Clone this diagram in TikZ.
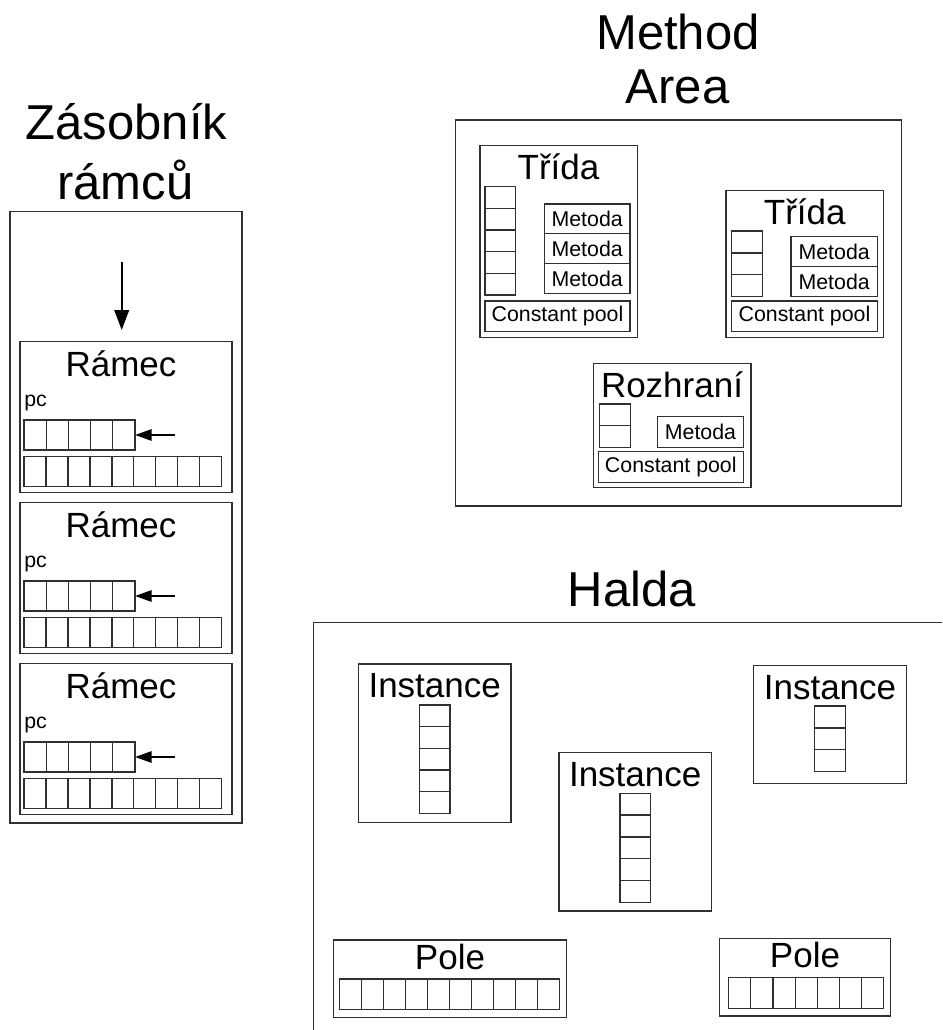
\documentclass[tikz,border=0pt]{standalone}
\usepackage{fontspec}
\setmainfont{Liberation Sans}
\usetikzlibrary{fit,arrows.meta}
\definecolor{lc}{HTML}{303030}
\tikzset{
  box/.style={draw=lc, line width=0.95pt, inner sep=0pt, outer sep=0pt},
  cellline/.style={draw=lc, line width=0.95pt},
  bigt/.style={font=\fontsize{36.75pt}{40pt}\selectfont, inner sep=0pt, anchor=base},
  midt/.style={font=\fontsize{26.25pt}{30pt}\selectfont, inner sep=0pt, anchor=base},
  smallt/.style={font=\fontsize{16pt}{18pt}\selectfont, inner sep=0pt},
  stackarrow/.style={line width=1.3pt, -{Triangle[length=15pt,width=11pt]}},
  pcarrow/.style={line width=1.6pt, -{Triangle[length=12.5pt,width=8.5pt]}},
}
% horizontal row of cells: x1 y1 x2 y2 n name
\newcommand\hcells[6]{%
  \node[box,fit={(#1,#2)(#3,#4)}] (#6) {};
  \pgfmathtruncatemacro\cellsm{#5-1}%
  \foreach \i in {1,...,\cellsm}{%
    \pgfmathsetmacro\cx{#1+(#3-#1)*\i/#5}%
    \draw[cellline] (\cx,#2) -- (\cx,#4);}%
}
% vertical column of cells: x1 y1 x2 y2 n name
\newcommand\vcells[6]{%
  \node[box,fit={(#1,#2)(#3,#4)}] (#6) {};
  \pgfmathtruncatemacro\cellsm{#5-1}%
  \foreach \i in {1,...,\cellsm}{%
    \pgfmathsetmacro\cy{#2+(#4-#2)*\i/#5}%
    \draw[cellline] (#1,\cy) -- (#3,\cy);}%
}
% labelled box: x1 y1 x2 y2 name text
\newcommand\labbox[6]{%
  \node[box,fit={(#1,#2)(#3,#4)}] (#5) {};
  \node[smallt] (#5-t) at (#5.center) {#6};
}
% frame of the stack: top y, name
\newcommand\stackframe[2]{%
  \node[box,fit={(20,#1)({232},{#1+151})}] (#2) {};
  \node[midt] (#2-title) at (121,{#1+34.3}) {Rámec};
  \node[smallt,anchor=base west] (#2-pc) at (24,{#1+64.5}) {pc};
  \hcells{24}{#1+78.3}{135}{#1+108.3}{5}{#2-reg}
  \hcells{24}{#1+115}{221.7}{#1+145}{9}{#2-loc}
  \coordinate (#2-ps) at (175,{#1+93.3});
  \draw[pcarrow] (#2-ps) -- (#2-reg.east);
}
\begin{document}
\begin{tikzpicture}[x=0.75pt,y=-0.75pt]
\useasboundingbox (0,0) rectangle (942,1030);
\clip (0,0) rectangle (942,1030);

% ---------- stack of frames ----------
\node[bigt] (zt1) at (126.5,139.3) {Zásobník};
\node[bigt] (zt2) at (125.3,200) {rámců};
\node[box,fit={(10,211.7)(242,823)}] (stack) {};
\coordinate (sa) at (121.7,262);
\coordinate (sb) at (121.7,330);
\draw[stackarrow] (sa) -- (sb);
\stackframe{341.7}{f1}
\stackframe{502.7}{f2}
\stackframe{663.7}{f3}

% ---------- method area ----------
\node[bigt] (mt1) at (678,50) {Method};
\node[bigt] (mt2) at (677.5,103.3) {Area};
\node[box,fit={(455.7,120)(901.7,506)}] (marea) {};

% class 1
\node[box,fit={(480,145.7)(637.3,337.7)}] (c1) {};
\node[midt] (c1-title) at (558.5,179.3) {Třída};
\vcells{485}{186.7}{515.3}{295}{5}{c1-f}
\labbox{544.3}{204}{630}{233.8}{c1-m1}{Metoda}
\labbox{544.3}{233.8}{630}{263.6}{c1-m2}{Metoda}
\labbox{544.3}{263.6}{630}{293.3}{c1-m3}{Metoda}
\labbox{485}{301}{630}{331.7}{c1-cp}{Constant pool}

% class 2
\node[box,fit={(726,190.7)(883.3,337.7)}] (c2) {};
\node[midt] (c2-title) at (804.7,224.3) {Třída};
\vcells{731.7}{231}{762.3}{296.7}{3}{c2-f}
\labbox{791}{236.7}{877.3}{266.7}{c2-m1}{Metoda}
\labbox{791}{266.7}{877.3}{296.7}{c2-m2}{Metoda}
\labbox{731.7}{301}{877.3}{331.7}{c2-cp}{Constant pool}

% interface
\node[box,fit={(593.3,363.3)(751,487.3)}] (ri) {};
\node[midt] (ri-title) at (672,397.3) {Rozhraní};
\vcells{599.3}{404}{630.3}{447.7}{2}{ri-f}
\labbox{657.7}{416.7}{743.3}{447.7}{ri-m1}{Metoda}
\labbox{598.3}{451.7}{743.3}{482.3}{ri-cp}{Constant pool}

% ---------- heap ----------
\node[bigt] (ht) at (631.7,606.7) {Halda};
\node[box,fit={(313.3,622.3)(990,1080)}] (heap) {};

\node[box,fit={(358.3,664)(511,822.3)}] (i1) {};
\node[midt] (i1-title) at (434.7,697.3) {Instance};
\vcells{419.3}{705}{450}{813.3}{5}{i1-f}

\node[box,fit={(559,752.7)(711.3,911)}] (i2) {};
\node[midt] (i2-title) at (635.2,786) {Instance};
\vcells{620}{793.3}{650.3}{902.3}{5}{i2-f}

\node[box,fit={(753.7,665.7)(906.3,783.3)}] (i3) {};
\node[midt] (i3-title) at (830,699) {Instance};
\vcells{814.7}{706}{845.3}{771.7}{3}{i3-f}

\node[box,fit={(333.3,940)(566.7,1017.3)}] (p1) {};
\node[midt] (p1-title) at (450,969.3) {Pole};
\hcells{339.3}{979}{559.3}{1009.3}{10}{p1-f}

\node[box,fit={(719.7,938.3)(890.3,1016)}] (p2) {};
\node[midt] (p2-title) at (805,967.3) {Pole};
\hcells{728.7}{977.7}{883.7}{1008.3}{7}{p2-f}
\end{tikzpicture}
\end{document}
